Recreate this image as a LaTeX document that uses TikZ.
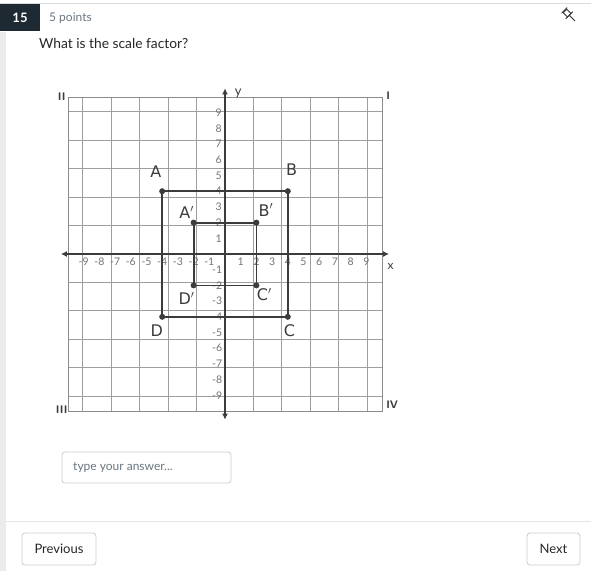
\documentclass[tikz,border=0pt]{standalone}
\usepackage{fontspec}
\setmainfont{Lato}
\newfontfamily\handfont{DejaVu Sans}
\usetikzlibrary{arrows.meta}
\definecolor{navy}{HTML}{1E2A33}
\definecolor{uigray}{HTML}{C7CDD1}
\definecolor{textgray}{HTML}{6B7780}
\definecolor{ink}{HTML}{3C3C3C}
\tikzset{
  gridline/.style={draw=black!38, line width=0.9pt},
  axisline/.style={draw=ink, line width=2pt, {Latex[length=6pt,width=6pt]}-{Latex[length=6pt,width=6pt]}},
  rectline/.style={draw=ink, line width=1.8pt},
  num/.style={font=\fontsize{10.5}{11}\selectfont, text=black!55, inner sep=0pt},
  ptlabel/.style={font=\handfont\fontsize{16}{17}\selectfont, text=ink, inner sep=0pt},
  quad/.style={font=\sffamily\bfseries\fontsize{11}{12}\selectfont, text=ink, inner sep=0pt},
  uibox/.style={draw=uigray, line width=0.8pt, rounded corners=3pt, fill=white},
  btntext/.style={font=\fontsize{13}{14}\selectfont, text=black!85},
}
\begin{document}
\begin{tikzpicture}[x=1pt,y=-1pt]
\useasboundingbox[fill=white] (0,0) rectangle (591,571);
% header
\draw[uigray!70, line width=0.8pt] (0,3) -- (591,3);
\fill[black!8] (0,32) rectangle (6,571);
\fill[navy] (0,4) rectangle (40,31);
\node[text=white, font=\bfseries\fontsize{13}{14}\selectfont] (qnum) at (20,18) {15};
\node[anchor=west, text=textgray, font=\fontsize{12}{13}\selectfont, inner sep=0pt] (pts) at (49,18) {5 points};
\node[anchor=west, text=black!85, font=\fontsize{13.8}{15}\selectfont, inner sep=0pt] (question) at (39,43) {What is the scale factor?};
% pin icon
\begin{scope}[shift={(570,16)}, rotate=45]
  \draw[black!80, line width=0.8pt] (-2.5,-7) rectangle (2.5,-1);
  \draw[black!80, line width=0.8pt] (-4,-8) -- (4,-8);
  \draw[black!80, line width=0.9pt] (-5,-1) -- (5,-1);
  \draw[black!80, line width=0.9pt] (0,-1) -- (0,7);
\end{scope}
% graph
\begin{scope}[xshift=225pt, yshift=-254pt, x=15.7pt, y=15.7pt]
  \draw[gridline] (-10,-10) grid (10,10);
  \draw[black!45, line width=1pt] (-10,-10) rectangle (10,10);
  \draw[axisline] (-10.45,0) -- (10.45,0);
  \draw[axisline] (0,-10.55) -- (0,10.55);
  \node[font=\fontsize{13}{14}\selectfont, text=ink] (ylab) at (0.85,10.25) {y};
  \node[font=\fontsize{12}{13}\selectfont, text=ink] (xlab) at (10.55,-0.8) {x};
  \foreach \i in {1,...,9}{
    \node[num] (xp\i) at (\i,-0.5) {\i};
    \node[num] (xn\i) at (-\i,-0.5) {-\i};
    \node[num] (yp\i) at (-0.4,\i) {\i};
    \node[num] (yn\i) at (-0.5,-\i) {-\i};
  }
  \node[quad] (qII) at (-10.4,10) {II};
  \node[quad] (qI) at (10.4,10.1) {I};
  \node[quad] (qIII) at (-10.4,-9.9) {III};
  \node[quad] (qIV) at (10.65,-9.6) {IV};
  % rectangles
  \coordinate (A) at (-4,4);
  \coordinate (B) at (4,4);
  \coordinate (C) at (4,-4);
  \coordinate (D) at (-4,-4);
  \coordinate (Ap) at (-2,2);
  \coordinate (Bp) at (2,2);
  \coordinate (Cp) at (2,-2);
  \coordinate (Dp) at (-2,-2);
  \draw[rectline] (A) -- (B) -- (C) -- (D) -- cycle;
  \draw[rectline] (Ap) -- (Bp) -- (Cp) -- (Dp) -- cycle;
  \foreach \p in {A,B,C,D,Ap,Bp,Cp,Dp}{\fill[ink] (\p) circle (3pt);}
  \node[ptlabel] (lA) at (-4.4,5.25) {A};
  \node[ptlabel] (lB) at (4.25,5.4) {B};
  \node[ptlabel] (lAp) at (-2.45,2.65) {A$'$};
  \node[ptlabel] (lBp) at (2.6,2.8) {B$'$};
  \node[ptlabel] (lDp) at (-2.45,-2.85) {D$'$};
  \node[ptlabel] (lCp) at (2.5,-2.6) {C$'$};
  \node[ptlabel] (lD) at (-4.35,-4.9) {D};
  \node[ptlabel] (lC) at (4.1,-4.9) {C};
\end{scope}
% answer box
\draw[uibox] (62,452) rectangle (231,483);
\node[anchor=west, text=textgray, font=\fontsize{12}{13}\selectfont, inner sep=0pt] (placeholder) at (73,467.5) {type your answer...};
% separator and buttons
\draw[black!10, line width=0.8pt] (6,521) -- (591,521);
\draw[uibox] (22,533) rectangle (96,565);
\node[btntext] (prev) at (59,549) {Previous};
\draw[uibox] (527,533) rectangle (580,565);
\node[btntext] (next) at (553.5,549) {Next};
\end{tikzpicture}
\end{document}
